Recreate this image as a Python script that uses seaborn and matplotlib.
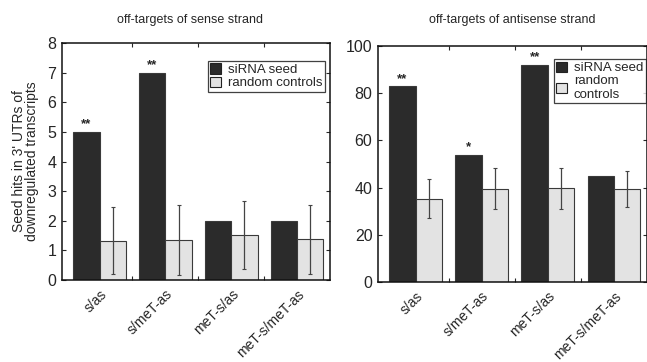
import numpy as np
import pandas as pd
import matplotlib
matplotlib.use("Agg")
import matplotlib.pyplot as plt
import seaborn as sns

categories = ["s/as", "s/meT-as", "meT-s/as", "meT-s/meT-as"]
series = ["siRNA seed", "random controls"]

sense_seed = [5, 7, 2, 2]
sense_random = [1.33, 1.36, 1.51, 1.37]
sense_random_err = [1.14, 1.18, 1.15, 1.16]
sense_stars = ["**", "**", "", ""]

anti_seed = [83, 54, 92, 45]
anti_random = [35.3, 39.6, 39.7, 39.3]
anti_random_err = [8.2, 8.5, 8.6, 7.6]
anti_stars = ["**", "*", "**", ""]

sns.set_theme(style="ticks")
plt.rcParams["font.family"] = ["Liberation Sans", "DejaVu Sans"]

dark = "#2b2b2b"
light = "#e3e3e3"


def panel(ax, seed, rand, err, stars, ymax, yticks, legend_labels, leg_anchor):
    df = pd.DataFrame({
        "cat": categories * 2,
        "series": [series[0]] * 4 + [series[1]] * 4,
        "val": list(seed) + list(rand),
    })
    sns.barplot(data=df, x="cat", y="val", hue="series", order=categories,
                hue_order=series, palette=[dark, light], width=0.8,
                edgecolor="#3a3a3a", linewidth=0.8, errorbar=None, ax=ax,
                legend=False, saturation=1)
    # error bars on random controls
    xs = [p.get_x() + p.get_width() / 2 for p in ax.containers[1]]
    ax.errorbar(xs, rand, yerr=err, fmt="none", ecolor="#444444",
                elinewidth=0.9, capsize=1.2, capthick=0.8)
    # significance stars
    for p, s in zip(ax.containers[0], stars):
        if s:
            ax.annotate(s, (p.get_x() + p.get_width() / 2, p.get_height()),
                        xytext=(0, 1), textcoords="offset points",
                        ha="center", va="bottom", fontsize=9.5,
                        fontweight="bold")
    ax.set_xlim(-0.57, 3.5)
    ax.set_ylim(0, ymax)
    ax.set_yticks(yticks)
    ax.set_xticks(range(4))
    ax.set_xticklabels(categories, rotation=45, ha="right",
                       rotation_mode="anchor", fontsize=10)
    ax.set_xticks([0.5, 1.5, 2.5], minor=True)
    ax.tick_params(axis="x", which="major", length=0, pad=5)
    ax.tick_params(axis="x", which="minor", direction="in", length=3,
                   top=True, bottom=True, width=0.8)
    ax.tick_params(axis="y", direction="in", length=3, right=True,
                   labelsize=11.5, width=0.8, pad=4)
    ax.set_xlabel("")
    ax.set_ylabel("")
    for sp in ax.spines.values():
        sp.set_visible(True)
        sp.set_linewidth(1.1)
        sp.set_color("#111111")
    handles = [plt.Rectangle((0, 0), 1, 1, fc=dark, ec="#222222", lw=0.8),
               plt.Rectangle((0, 0), 1, 1, fc=light, ec="#222222", lw=0.8)]
    leg = ax.legend(handles, legend_labels, loc="upper right",
                    bbox_to_anchor=leg_anchor, fontsize=9.5,
                    frameon=True, fancybox=False, handlelength=0.8,
                    handleheight=0.8, handletextpad=0.5, borderpad=0.2,
                    labelspacing=0.05, borderaxespad=0)
    leg.get_frame().set_edgecolor("#111111")
    leg.get_frame().set_linewidth(0.9)


fig = plt.figure(figsize=(6.47, 3.62), dpi=100)
ax1 = fig.add_axes([62 / 647, (362 - 280) / 362, 268 / 647, 237 / 362])
ax2 = fig.add_axes([378 / 647, (362 - 282) / 362, 269 / 647, 236 / 362])

panel(ax1, sense_seed, sense_random, sense_random_err, sense_stars, 8,
      range(0, 9), series, (0.98, 0.925))
panel(ax2, anti_seed, anti_random, anti_random_err, anti_stars, 100,
      range(0, 101, 20), ["siRNA seed", "random\ncontrols"], (0.995, 0.945))

fig.text(190 / 647, 1 - 20 / 362, "off-targets of sense strand",
         ha="center", va="center", fontsize=9)
fig.text(512 / 647, 1 - 20 / 362, "off-targets of antisense strand",
         ha="center", va="center", fontsize=9)

ax1.set_ylabel("Seed hits in 3' UTRs of\ndownregulated transcripts",
               fontsize=10, labelpad=6, linespacing=0.95)

fig.savefig("out.png", dpi=100, facecolor="white")
